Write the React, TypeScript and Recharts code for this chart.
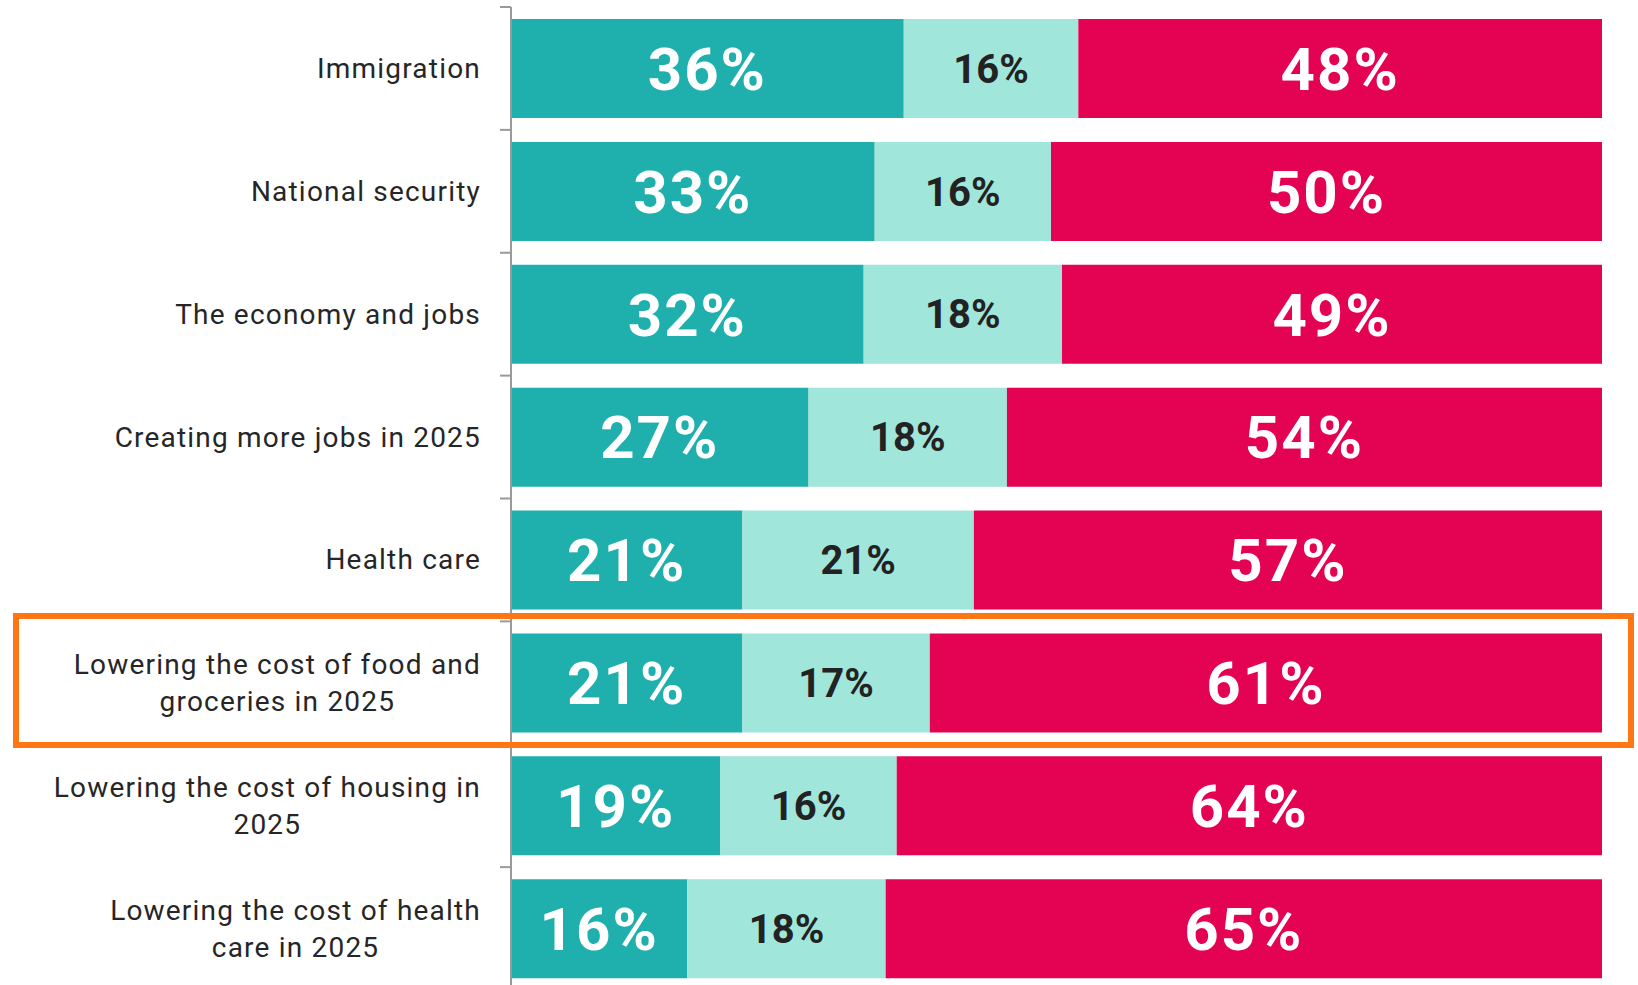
import { BarChart, Bar, XAxis, YAxis, LabelList } from 'recharts'

const categories = [
  'Immigration',
  'National security',
  'The economy and jobs',
  'Creating more jobs in 2025',
  'Health care',
  'Lowering the cost of food and\ngroceries in 2025',
  'Lowering the cost of housing in\n2025',
  'Lowering the cost of health\ncare in 2025',
]
const favorable = [36, 33, 32, 27, 21, 21, 19, 16]
const neutral = [16, 16, 18, 18, 21, 17, 16, 18]
const unfavorable = [48, 50, 49, 54, 57, 61, 64, 65]

const data = categories.map((name, i) => ({
  name,
  fav: favorable[i],
  mid: neutral[i],
  unfav: unfavorable[i],
}))

const W = 1638
const H = 990
const TOP = 7
const AXIS_X = 511
const BAND = (H - TOP) / categories.length
const HIGHLIGHT = 5

const pct = (v: any) => `${v}%`

const bigLabel = { fontFamily: 'Roboto, sans-serif', fontWeight: 700, fontSize: 60, letterSpacing: 2 }
const smallLabel = { fontFamily: 'Roboto, sans-serif', fontWeight: 700, fontSize: 40 }

function CategoryTick(props: any) {
  const { y, payload } = props
  const top = y - BAND / 2
  return (
    <g>
      <line x1={AXIS_X - 11} x2={AXIS_X} y1={top} y2={top} stroke="#9a9a9a" strokeWidth={2} />
      <foreignObject x={0} y={top} width={481} height={BAND}>
        <div
          style={{
            height: '100%',
            display: 'flex',
            alignItems: 'center',
            justifyContent: 'flex-end',
          }}
        >
          <div
            style={{
              textAlign: 'center',
              whiteSpace: 'pre-line',
              fontFamily: 'Roboto, sans-serif',
              fontSize: 28,
              letterSpacing: 1.2,
              lineHeight: '37px',
              color: '#262626',
            }}
          >
            {payload.value}
          </div>
        </div>
      </foreignObject>
    </g>
  )
}

export default function App() {
  const boxTop = TOP + HIGHLIGHT * BAND - 8
  return (
    <div style={{ position: 'fixed', inset: 0, overflow: 'hidden', background: '#fff' }}>
      <BarChart
        width={W}
        height={H}
        data={data}
        layout="vertical"
        stackOffset="expand"
        margin={{ top: TOP, right: 36, bottom: 0, left: 1 }}
      >
        <XAxis type="number" hide />
        <YAxis
          type="category"
          dataKey="name"
          width={510}
          axisLine={{ stroke: '#9a9a9a', strokeWidth: 2 }}
          tickLine={false}
          tick={(p: any) => <CategoryTick {...p} />}
          interval={0}
        />
        <Bar dataKey="fav" stackId="a" fill="#1FB0AE" barSize={99} isAnimationActive={false}>
          <LabelList dataKey="fav" position="center" formatter={pct} fill="#fff" style={bigLabel} />
        </Bar>
        <Bar dataKey="mid" stackId="a" fill="#A1E6DA" barSize={99} isAnimationActive={false}>
          <LabelList dataKey="mid" position="center" formatter={pct} fill="#222" style={smallLabel} />
        </Bar>
        <Bar dataKey="unfav" stackId="a" fill="#E40253" barSize={99} isAnimationActive={false}>
          <LabelList dataKey="unfav" position="center" formatter={pct} fill="#fff" style={bigLabel} />
        </Bar>
      </BarChart>
      <div
        style={{
          position: 'absolute',
          left: 13,
          top: boxTop,
          width: 1621,
          height: 135,
          border: '6px solid #FF7614',
          boxSizing: 'border-box',
          pointerEvents: 'none',
        }}
      />
    </div>
  )
}
